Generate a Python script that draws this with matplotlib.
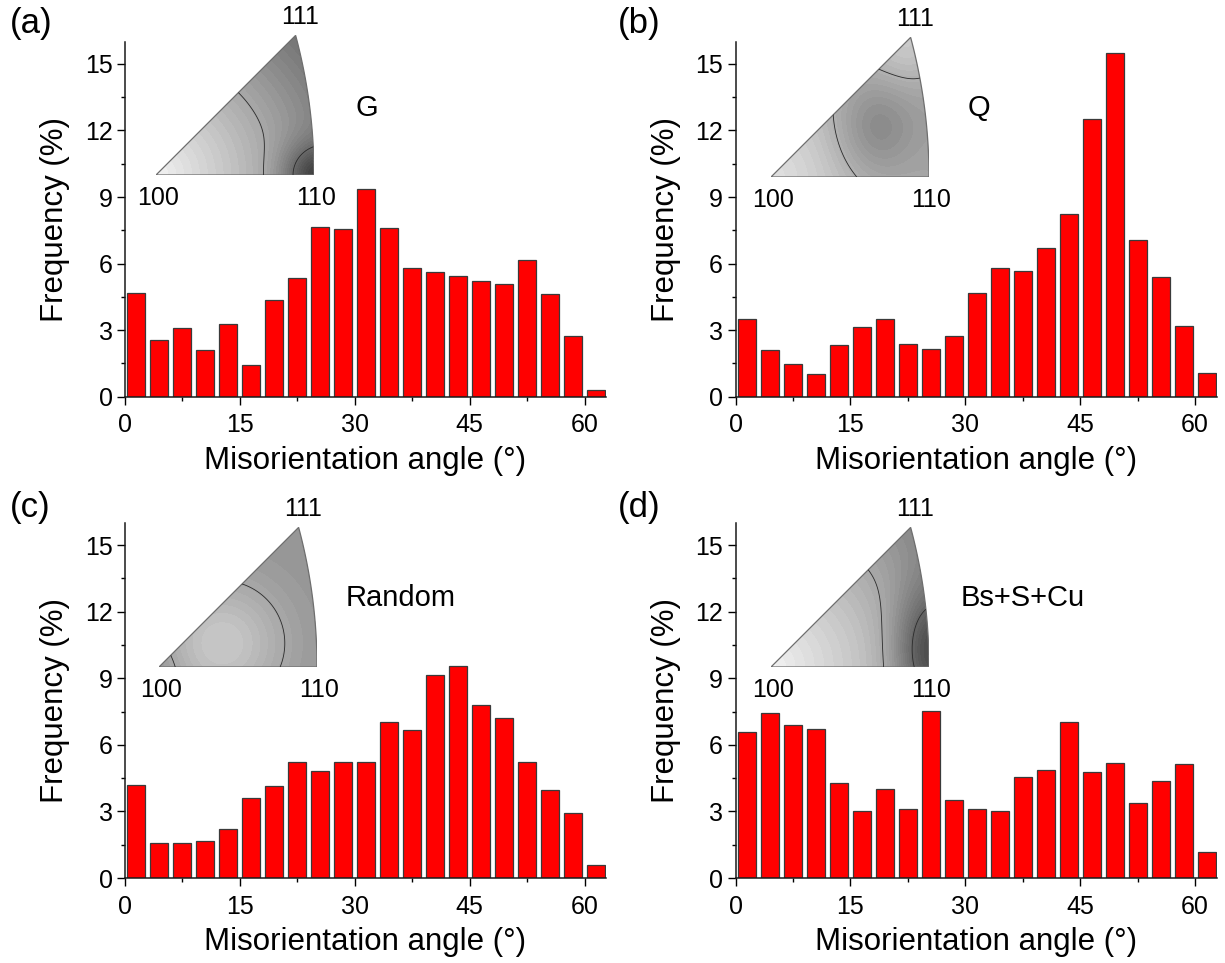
import numpy as np
import matplotlib
matplotlib.use('Agg')
import matplotlib.pyplot as plt
from matplotlib.path import Path
from matplotlib.patches import PathPatch
from matplotlib.ticker import MultipleLocator

plt.rcParams['font.family'] = ['Liberation Sans', 'DejaVu Sans']

# ---------------- data ----------------
# 3° bins, bar centred in each bin
angle_centers = np.arange(1.5, 63, 3)

freq_g = [4.68, 2.56, 3.10, 2.09, 3.28, 1.45, 4.34, 5.36, 7.65, 7.58, 9.35,
          7.59, 5.81, 5.62, 5.44, 5.21, 5.06, 6.14, 4.62, 2.74, 0.30]
freq_q = [3.49, 2.11, 1.46, 1.01, 2.32, 3.16, 3.49, 2.39, 2.14, 2.73, 4.68,
          5.78, 5.66, 6.72, 8.25, 12.51, 15.51, 7.06, 5.39, 3.19, 1.05]
freq_random = [4.19, 1.59, 1.56, 1.68, 2.19, 3.59, 4.16, 5.24, 4.84, 5.24, 5.25,
               7.02, 6.66, 9.15, 9.54, 7.78, 7.20, 5.25, 3.97, 2.92, 0.60]
freq_bs = [6.60, 7.44, 6.90, 6.71, 4.28, 3.02, 4.01, 3.11, 7.51, 3.53, 3.11,
           3.02, 4.54, 4.88, 7.05, 4.79, 5.18, 3.38, 4.39, 5.13, 1.15]

panel_tags = ['(a)', '(b)', '(c)', '(d)']
texture_names = ['G', 'Q', 'Random', 'Bs+S+Cu']
x_ticks = [0, 15, 30, 45, 60]
y_ticks = [0, 3, 6, 9, 12, 15]

# inverse pole figure intensity (1 = white, 0 = black) on the unit triangle
# 100=(0,0), 110=(1,0); value = base - slope*r + gaussian bumps (u0, v0, amp, wu, wv)
ipf_base = [0.95, 0.88, 0.58, 0.95]
ipf_slope = [0.40, 0.22, 0.0, 0.33]
ipf_bumps = [
    [(1.0, 0.0, -0.30, 0.20, 0.20)],
    [(0.65, 0.30, -0.17, 0.28, 0.35), (0.884, 0.884, 0.18, 0.30, 0.30)],
    [(0.40, 0.15, 0.20, 0.40, 0.40), (0.0, 0.0, -0.04, 0.15, 0.15)],
    [(1.0, 0.10, -0.32, 0.22, 0.40)],
]
ipf_contours = [[0.41, 0.655], [0.69], [0.655], [0.40, 0.66]]

# ---------------- layout (pixels of a 1225x963 canvas) ----------------
W, H = 1225, 963
AX_W, AX_H = 481, 355
ax_origin = [(125, 396.7), (735.6, 396.7), (125, 878), (735.6, 878)]   # x=0,y=0 corner
ipf_origin = [(156, 175), (771, 177), (159, 667), (771, 667)]          # 100 pole
IPF_W = 158
tag_pos = [(10, 24), (618, 24), (10, 507), (618, 507)]
name_pos = [(30.1, 13.0), (30.3, 13.0), (28.8, 12.6), (29.4, 12.6)]

C111 = 0.366 / 0.4142  # 111 pole in units of the 100-110 distance


def triangle_path():
    """标准三角：100-110 直边，110-111 大圆弧，111-100 直边。"""
    cx, R = -1 / 0.4142, np.sqrt(2) / 0.4142
    a1 = np.arctan2(C111, C111 - cx)
    th = np.linspace(0, a1, 60)
    arc = np.column_stack([cx + R * np.cos(th), R * np.sin(th)])
    verts = np.vstack([[0, 0], arc, [0, 0]])
    codes = [Path.MOVETO] + [Path.LINETO] * (len(verts) - 2) + [Path.CLOSEPOLY]
    return Path(verts, codes)


def ipf_field(i, u, v):
    r = np.hypot(u, v)
    f = ipf_base[i] - ipf_slope[i] * r
    for (u0, v0, amp, wu, wv) in ipf_bumps[i]:
        f = f + amp * np.exp(-((u - u0) ** 2 / wu ** 2 + (v - v0) ** 2 / wv ** 2))
    return f


def draw_ipf(fig, i):
    px, py = ipf_origin[i]
    h = IPF_W * C111
    ax = fig.add_axes([px / W, 1 - py / H, IPF_W / W, h / H])
    ax.set_xlim(0, 1); ax.set_ylim(0, C111); ax.axis('off')
    u, v = np.meshgrid(np.linspace(0, 1, 300), np.linspace(0, C111, 270))
    f = ipf_field(i, u, v)
    path = triangle_path()
    clip = PathPatch(path, transform=ax.transData, facecolor='none', edgecolor='none')
    ax.add_patch(clip)
    cf = ax.contourf(u, v, f, levels=np.linspace(0, 1, 51), cmap='gray', vmin=0, vmax=1)
    cf.set_clip_path(clip)
    cl = ax.contour(u, v, f, levels=sorted(ipf_contours[i]), colors='#2a2a2a', linewidths=0.6)
    cl.set_clip_path(clip)
    ax.add_patch(PathPatch(path, facecolor='none', edgecolor='#6e6e6e', lw=0.9))
    kw = dict(textcoords='offset pixels', ha='center', va='center', fontsize=18,
              annotation_clip=False)
    ax.annotate('100', xy=(0, 0), xytext=(2, -23), **kw)
    ax.annotate('110', xy=(1, 0), xytext=(2, -23), **kw)
    ax.annotate('111', xy=(C111, C111), xytext=(4, 18), **kw)


def draw_hist(fig, i, freq):
    x0, y0 = ax_origin[i]
    ax = fig.add_axes([x0 / W, 1 - y0 / H, AX_W / W, AX_H / H])
    ax.bar(angle_centers, freq, width=2.35, color='#ff0000', edgecolor='#3a3a3a',
           linewidth=0.9, zorder=2)
    ax.set_xlim(0, 62.8); ax.set_ylim(0, 16)
    ax.set_xticks(x_ticks); ax.set_yticks(y_ticks)
    ax.xaxis.set_minor_locator(MultipleLocator(7.5))
    ax.yaxis.set_minor_locator(MultipleLocator(1.5))
    ax.spines['top'].set_visible(False); ax.spines['right'].set_visible(False)
    for s in ('left', 'bottom'):
        ax.spines[s].set_linewidth(1.1); ax.spines[s].set_color('#1a1a1a')
    ax.tick_params(which='major', direction='out', length=5.5, width=1.0, labelsize=18)
    ax.tick_params(axis='x', which='major', pad=6.5)
    ax.tick_params(axis='y', which='major', pad=3.5)
    ax.tick_params(which='minor', direction='out', length=3, width=1.0)
    ax.set_xlabel('Misorientation angle (°)', fontsize=22.5)
    ax.set_ylabel('Frequency (%)', fontsize=22.5)
    ax.xaxis.set_label_coords(0.5, -49 / AX_H)
    ax.yaxis.set_label_coords(-55 / AX_W, 0.5)
    ax.text(*name_pos[i], texture_names[i], fontsize=21, ha='left', va='center')
    fig.text(tag_pos[i][0] / W, 1 - tag_pos[i][1] / H, panel_tags[i], fontsize=25,
             ha='left', va='center')
    return ax


fig = plt.figure(figsize=(W / 100, H / 100), dpi=100)
for i, freq in enumerate([freq_g, freq_q, freq_random, freq_bs]):
    draw_hist(fig, i, freq)
    draw_ipf(fig, i)
fig.savefig('out.png', dpi=100)
